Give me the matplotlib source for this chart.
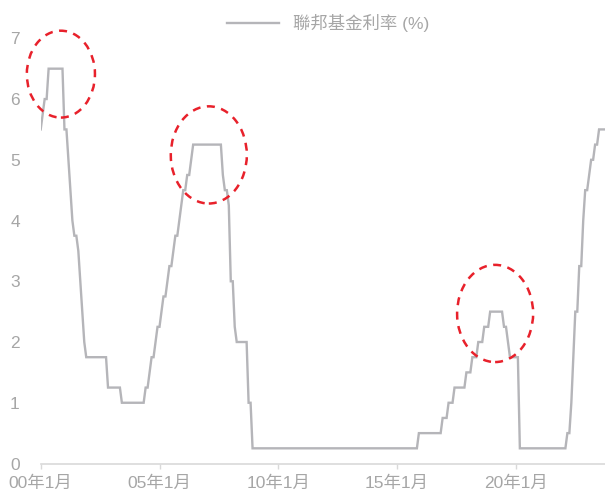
import matplotlib
matplotlib.use("Agg")
import matplotlib.pyplot as plt
from matplotlib.patches import Ellipse

plt.rcParams['font.family'] = ['Liberation Sans', 'Noto Sans CJK TC', 'DejaVu Sans']

# Monthly (month-end) federal funds target rate, Jan 2000 - Oct 2023
rate_2000 = [5.5, 5.75, 6.0, 6.0, 6.5, 6.5, 6.5, 6.5, 6.5, 6.5, 6.5, 6.5]
rate_2001 = [5.5, 5.5, 5.0, 4.5, 4.0, 3.75, 3.75, 3.5, 3.0, 2.5, 2.0, 1.75]
rate_2002 = [1.75, 1.75, 1.75, 1.75, 1.75, 1.75, 1.75, 1.75, 1.75, 1.75, 1.25, 1.25]
rate_2003 = [1.25, 1.25, 1.25, 1.25, 1.25, 1.0, 1.0, 1.0, 1.0, 1.0, 1.0, 1.0]
rate_2004 = [1.0, 1.0, 1.0, 1.0, 1.0, 1.25, 1.25, 1.5, 1.75, 1.75, 2.0, 2.25]
rate_2005 = [2.25, 2.5, 2.75, 2.75, 3.0, 3.25, 3.25, 3.5, 3.75, 3.75, 4.0, 4.25]
rate_2006 = [4.5, 4.5, 4.75, 4.75, 5.0, 5.25, 5.25, 5.25, 5.25, 5.25, 5.25, 5.25]
rate_2007 = [5.25, 5.25, 5.25, 5.25, 5.25, 5.25, 5.25, 5.25, 4.75, 4.5, 4.5, 4.25]
rate_2008 = [3.0, 3.0, 2.25, 2.0, 2.0, 2.0, 2.0, 2.0, 2.0, 1.0, 1.0, 0.25]
rate_2009_2014 = [0.25] * 72
rate_2015 = [0.25] * 11 + [0.5]
rate_2016 = [0.5] * 11 + [0.75]
rate_2017 = [0.75, 0.75, 1.0, 1.0, 1.0, 1.25, 1.25, 1.25, 1.25, 1.25, 1.25, 1.5]
rate_2018 = [1.5, 1.5, 1.75, 1.75, 1.75, 2.0, 2.0, 2.0, 2.25, 2.25, 2.25, 2.5]
rate_2019 = [2.5, 2.5, 2.5, 2.5, 2.5, 2.5, 2.25, 2.25, 2.0, 1.75, 1.75, 1.75]
rate_2020 = [1.75, 1.75] + [0.25] * 10
rate_2021 = [0.25] * 12
rate_2022 = [0.25, 0.25, 0.5, 0.5, 1.0, 1.75, 2.5, 2.5, 3.25, 3.25, 4.0, 4.5]
rate_2023 = [4.5, 4.75, 5.0, 5.0, 5.25, 5.25, 5.5, 5.5, 5.5, 5.5]

rates = (rate_2000 + rate_2001 + rate_2002 + rate_2003 + rate_2004 + rate_2005
         + rate_2006 + rate_2007 + rate_2008 + rate_2009_2014 + rate_2015
         + rate_2016 + rate_2017 + rate_2018 + rate_2019 + rate_2020
         + rate_2021 + rate_2022 + rate_2023)
months = list(range(len(rates)))  # months since Jan 2000

xtick_pos = [0, 60, 120, 180, 240]
xtick_labels = ['00年1月', '05年1月', '10年1月', '15年1月', '20年1月']
ytick_pos = [0, 1, 2, 3, 4, 5, 6, 7]
legend_label = '聯邦基金利率 (%)'

# highlighted peaks: (center month, center rate, width months, height rate)
highlights = [(10.2, 6.41, 34.4, 1.43), (84.9, 5.08, 38.4, 1.6), (229.5, 2.47, 38.4, 1.6)]

LINE = '#b5b5b9'
TXT = '#a6a6a6'
AXC = '#d9d9d9'
RED = '#e8212b'

fig = plt.figure(figsize=(6.05, 4.99), dpi=100)
ax = fig.add_axes([40.7 / 605, 35.5 / 499, 1 - 40.7 / 605, (463.5 - 38.3) / 499])

ln, = ax.plot(months, rates, color=LINE, lw=1.7, solid_joinstyle='miter', label=legend_label)

for cx, cy, w, h in highlights:
    e = Ellipse((cx, cy), w, h, fill=False, edgecolor=RED, lw=1.8,
                linestyle=(0, (3.2, 2.6)), clip_on=False, zorder=5)
    ax.add_patch(e)

ax.set_xlim(0, len(rates) - 1)
ax.set_ylim(0, 7)

for s in ['top', 'right', 'left']:
    ax.spines[s].set_visible(False)
ax.spines['bottom'].set_color(AXC)
ax.spines['bottom'].set_linewidth(1.2)

ax.set_xticks(xtick_pos)
ax.set_xticklabels(xtick_labels)
ax.set_yticks(ytick_pos)
ax.tick_params(axis='x', direction='out', length=3.5, width=1.0, color=AXC,
               labelcolor=TXT, labelsize=12.5, pad=5)
ax.tick_params(axis='y', length=0, labelcolor=TXT, labelsize=12.5, pad=15)
for t in ax.get_xticklabels():
    t.set_x(t.get_position()[0])

fig.legend(handles=[ln], loc='center', bbox_to_anchor=(0.5417, 0.9545), frameon=False,
           fontsize=12.5, labelcolor=TXT, handlelength=3.0, handletextpad=0.8)

fig.savefig('out.png', dpi=100)
